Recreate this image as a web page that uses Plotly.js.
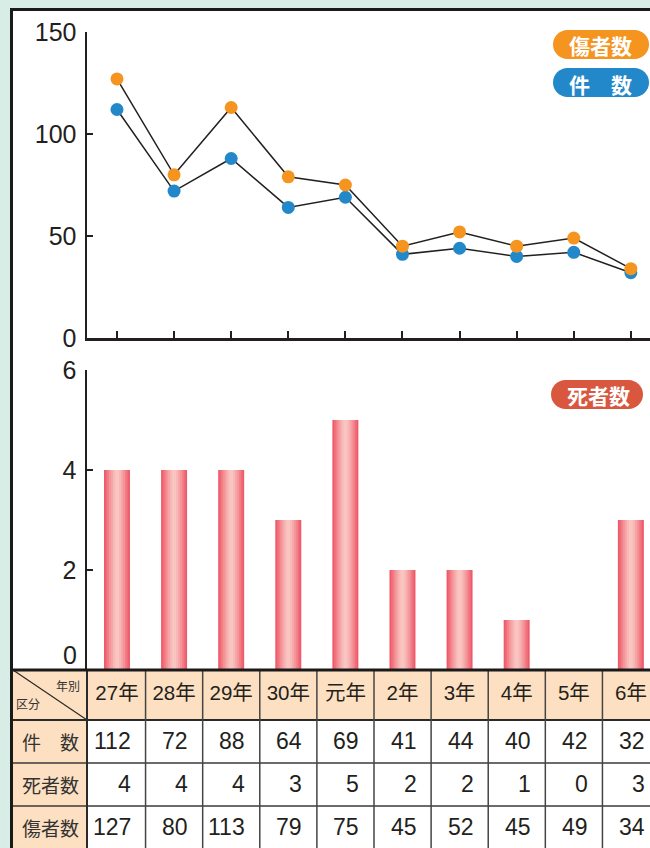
<!DOCTYPE html>
<html><head><meta charset="utf-8">
<script src="https://cdn.plot.ly/plotly-3.0.1.min.js"></script>
<style>html,body{margin:0;padding:0;background:#d7ede5}</style>
</head><body><div id="chart" style="width:650px;height:848px"></div>
<script>
// ---- data ----
const years = ['27年','28年','29年','30年','元年','2年','3年','4年','5年','6年'];
const cases = [112,72,88,64,69,41,44,40,42,32];
const injured = [127,80,113,79,75,45,52,45,49,34];
const deaths = [4,4,4,3,5,2,2,1,0,3];
const rowLabels = ['件　数','死者数','傷者数'];
const lineTicks = [0,50,100,150];
const barTicks = [2,4,6];

// ---- layout helpers (pixel -> paper) ----
const W=650,H=848;
const px = x=>x/W, py = y=>1-y/H;
const idx = years.map((_,i)=>i);
const xr = [-0.525, 9.335];
const dark = '#231f20';
const numFont = 'Liberation Sans, Arial, sans-serif';
const jpFont = 'Noto Sans CJK JP, sans-serif';

function pill(x0,y0,x1,y1,color){
  const r=(y1-y0)/2, k=0.5523*r;
  const P=(x,y)=>`${px(x)},${py(y)}`;
  const d=`M${P(x0+r,y0)} L${P(x1-r,y0)} C${P(x1-r+k,y0)} ${P(x1,y0+r-k)} ${P(x1,y0+r)} C${P(x1,y1-r+k)} ${P(x1-r+k,y1)} ${P(x1-r,y1)} L${P(x0+r,y1)} C${P(x0+r-k,y1)} ${P(x0,y1-r+k)} ${P(x0,y0+r)} C${P(x0,y0+r-k)} ${P(x0+r-k,y0)} ${P(x0+r,y0)} Z`;
  return {type:'path',xref:'paper',yref:'paper',path:d,fillcolor:color,line:{width:0},layer:'above'};
}

// ---- traces ----
const traces = [];
traces.push({x:years,y:cases,type:'scatter',mode:'lines+markers',xaxis:'x',yaxis:'y',
  line:{color:dark,width:1.5},marker:{color:'#2388c9',size:13},hoverinfo:'skip',cliponaxis:false});
traces.push({x:years,y:injured,type:'scatter',mode:'lines+markers',xaxis:'x',yaxis:'y',
  line:{color:dark,width:1.5},marker:{color:'#f5941f',size:13},hoverinfo:'skip',cliponaxis:false});

// bars with simulated horizontal gradient (overlaid layers)
const gradColors = ['#ee5a69','#f06c78','#f27f88','#f49398','#f6a6a8','#f8b8b6','#f9c5c0'];
const gradWidths = [0.455,0.40,0.34,0.28,0.21,0.14,0.07];
gradColors.forEach((c,k)=>{
  traces.push({x:years,y:deaths,type:'bar',xaxis:'x2',yaxis:'y2',width:gradWidths[k],
    marker:{color:c,line:{width:0}},hoverinfo:'skip'});
});

// table header labels
traces.push({x:idx,y:idx.map(()=>-1.081),type:'scatter',mode:'text',text:years,xaxis:'x3',yaxis:'y3',
  textposition:'middle center',textfont:{family:numFont+', '+jpFont,size:20.5,color:dark},hoverinfo:'skip'});

// ---- table geometry (x3/y3 units) ----
const tL = -1.821, tR = 9.6, hTop = -1.663, hBot = -0.5, tBot = 2.6, c1 = -0.525;
const shapes = [];
// panel
shapes.push({type:'rect',xref:'paper',yref:'paper',x0:px(11.5),y0:py(9.5),x1:1.05,y1:-0.05,
  fillcolor:'#ffffff',line:{color:'#1a1a1a',width:3},layer:'below'});
// fills
shapes.push({type:'rect',xref:'x3',yref:'y3',x0:tL,x1:tR,y0:hTop,y1:hBot,fillcolor:'#fde0c1',line:{width:0},layer:'below'});
shapes.push({type:'rect',xref:'x3',yref:'y3',x0:tL,x1:c1,y0:hBot,y1:tBot,fillcolor:'#fde0c1',line:{width:0},layer:'below'});
// horizontal lines
shapes.push({type:'line',xref:'x3',yref:'y3',x0:tL,x1:tR,y0:hBot,y1:hBot,line:{color:'#2a2a2a',width:2}});
rowLabels.slice(0,-1).forEach((_,r)=>{
  shapes.push({type:'line',xref:'x3',yref:'y3',x0:tL,x1:tR,y0:r+0.5,y1:r+0.5,line:{color:'#3a3a3a',width:1.5}});
});
// vertical lines
shapes.push({type:'line',xref:'x3',yref:'y3',x0:c1,x1:c1,y0:hTop,y1:tBot,line:{color:'#2a2a2a',width:2}});
idx.slice(0,-1).forEach(i=>{
  shapes.push({type:'line',xref:'x3',yref:'y3',x0:i+0.5,x1:i+0.5,y0:hTop,y1:tBot,line:{color:'#444',width:1.5}});
});
// diagonal
shapes.push({type:'line',xref:'x3',yref:'y3',x0:tL,y0:hTop,x1:c1,y1:hBot,line:{color:'#2a2a2a',width:1.2}});
// table top border
shapes.push({type:'line',xref:'x3',yref:'y3',x0:tL,x1:tR,y0:hTop,y1:hTop,line:{color:'#1a1a1a',width:3}});
// legend pills
shapes.push(pill(553,30,649,59,'#f5941f'));
shapes.push(pill(553,68,649,97,'#2388c9'));
shapes.push(pill(551,380,643,409,'#d9573f'));

// ---- annotations ----
const ann = [];
const tableRows = [cases,deaths,injured];
tableRows.forEach((row,r)=>{
  row.forEach((v,i)=>{
    ann.push({xref:'x3',yref:'y3',x:i,y:r,xanchor:'right',yanchor:'middle',xshift:16,
      text:String(v),showarrow:false,font:{family:numFont,size:23,color:dark}});
  });
  ann.push({xref:'x3',yref:'y3',x:(tL+c1)/2,y:r,xanchor:'center',yanchor:'middle',
    text:rowLabels[r],showarrow:false,font:{family:jpFont,size:19,color:'#333'}});
});
ann.push({xref:'paper',yref:'paper',x:px(68),y:py(685),text:'年別',showarrow:false,xanchor:'center',yanchor:'middle',
  font:{family:jpFont,size:12,color:'#333'}});
ann.push({xref:'paper',yref:'paper',x:px(28),y:py(703),text:'区分',showarrow:false,xanchor:'center',yanchor:'middle',
  font:{family:jpFont,size:12,color:'#333'}});
// bar-chart zero label (raised above table)
ann.push({xref:'paper',yref:'y2',x:px(79),y:0,yshift:15,xanchor:'right',yanchor:'middle',text:'0',showarrow:false,
  font:{family:numFont,size:25,color:dark}});
// legend texts
ann.push({xref:'paper',yref:'paper',x:px(600),y:py(44.5),text:'傷者数',showarrow:false,xanchor:'center',yanchor:'middle',
  font:{family:jpFont,size:21,color:'#fff',weight:'bold'}});
ann.push({xref:'paper',yref:'paper',x:px(600),y:py(83.5),text:'件　数',showarrow:false,xanchor:'center',yanchor:'middle',
  font:{family:jpFont,size:21,color:'#fff',weight:'bold'}});
ann.push({xref:'paper',yref:'paper',x:px(598),y:py(395),text:'死者数',showarrow:false,xanchor:'center',yanchor:'middle',
  font:{family:jpFont,size:21,color:'#fff',weight:'bold'}});

const axLine = {showline:true,linecolor:dark,linewidth:2.5,showgrid:false,zeroline:false};
const layout = {
  width:W,height:H,margin:{l:0,r:0,t:0,b:0},
  paper_bgcolor:'#d7ede5',plot_bgcolor:'rgba(0,0,0,0)',
  showlegend:false,hovermode:false,barmode:'overlay',
  xaxis:Object.assign({},axLine,{domain:[px(87),1],type:'category',categoryarray:years,range:xr,
    ticks:'inside',ticklen:7,tickwidth:2,tickcolor:dark,showticklabels:false,anchor:'y'}),
  yaxis:Object.assign({},axLine,{domain:[py(338),py(32)],range:[0,150],tickvals:lineTicks,
    ticks:'inside',ticklen:6,tickwidth:2,tickcolor:dark,ticklabelstandoff:3,
    tickfont:{family:numFont,size:25,color:dark},anchor:'x'}),
  xaxis2:{domain:[px(87),1],type:'category',categoryarray:years,range:xr,showline:false,showgrid:false,
    zeroline:false,showticklabels:false,ticks:'',anchor:'y2'},
  yaxis2:Object.assign({},axLine,{domain:[py(670),py(370)],range:[0,6],tickvals:barTicks,
    ticks:'inside',ticklen:6,tickwidth:2,tickcolor:dark,ticklabelstandoff:3,
    tickfont:{family:numFont,size:25,color:dark},anchor:'x2'}),
  xaxis3:{domain:[0,1],range:[-117/57.11,(650-117)/57.11],visible:false,anchor:'y3'},
  yaxis3:{domain:[0,py(666)],range:[2.48,-1.756],visible:false,anchor:'x3'},
  shapes:shapes,annotations:ann
};
Plotly.newPlot('chart',traces,layout,{staticPlot:true,displayModeBar:false});
</script></body></html>
